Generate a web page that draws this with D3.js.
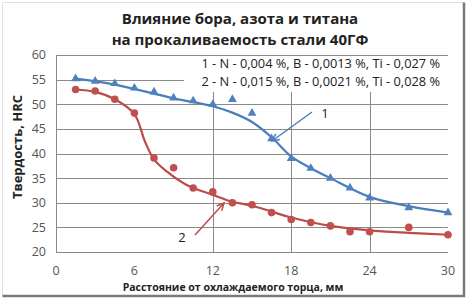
<!DOCTYPE html>
<html lang="ru">
<head>
<meta charset="UTF-8">
<title>Прокаливаемость стали 40ГФ</title>
<script src="https://d3js.org/d3.v7.min.js"></script>
<style>
  body { margin: 0; background: #fff; }
  svg { display: block; font-family: "Open Sans", "DejaVu Sans", sans-serif; }
  .grid line { stroke: #8a8a8a; stroke-width: 1px; }
  .tick-label { font-size: 12.5px; fill: #555; }
</style>
</head>
<body>
<div id="chart"></div>
<script>
// distances from the quenched end, mm
const distance = [1.5, 3, 4.5, 6, 7.5, 9, 10.5, 12, 13.5, 15, 16.5, 18, 19.5, 21, 22.5, 24, 27, 30];
// hardness, HRC (measured points)
const steel1 = [55.2, 54.7, 54.2, 53.3, 52.5, 51.3, 50.7, 50, 51, 48.2, 43, 39, 37, 35, 33, 31, 29, 28];
const steel2 = [53, 52.7, 51, 48.2, 39.1, 37.1, 33, 32.2, 30, 29.6, 28, 26.6, 26, 25.3, 24.1, 24.1, 25, 23.5];

// smooth curves drawn through the points
const curve1X = [1.5, 4.5, 9, 12, 13.5, 15, 16.5, 18, 19.5, 21, 24, 27, 30];
const curve1Y = [55.2, 54, 51.2, 49.6, 48.3, 46.4, 43.3, 39.4, 37, 35, 31.2, 29.3, 28];
const curve2X = [1.5, 3, 4.5, 6, 6.8, 7.5, 8.5, 10, 12, 13.5, 15, 16.5, 18, 21, 24, 27, 30];
const curve2Y = [53, 52.5, 51, 48, 42.5, 38.8, 36.3, 33.6, 31.6, 30.2, 29.4, 28.2, 27, 25.3, 24.4, 23.9, 23.5];

const xTicks = [0, 6, 12, 18, 24, 30];
const yTicks = [20, 25, 30, 35, 40, 45, 50, 55, 60];
const xGrid = [12, 18, 24];

const legendLines = [
  "1 - N - 0,004 %, B - 0,0013 %, Ti - 0,027 %",
  "2 - N - 0,015 %, B - 0,0021 %, Ti - 0,028 %"
];

const W = 468, H = 299;
const blue = "#4a7ebb", red = "#be4b48";

const svg = d3.select("#chart").append("svg")
  .attr("width", W).attr("height", H);

// chart frame
svg.append("rect").attr("x", 0).attr("y", 0).attr("width", W).attr("height", H).attr("fill", "#fff");
svg.append("path").attr("d", "M2.5,296 V2.5 H464").attr("fill", "none").attr("stroke", "#e0e0e0");
svg.append("path").attr("d", "M464,2.5 V296 H2.5").attr("fill", "none").attr("stroke", "#7a7a7a").attr("stroke-width", 2.5);

const x = d3.scaleLinear().domain([0, 30]).range([56, 448]);
const y = d3.scaleLinear().domain([20, 60]).range([252, 55]);

// grid
const grid = svg.append("g").attr("class", "grid");
grid.selectAll(".h").data(yTicks).join("line")
  .attr("x1", x(0)).attr("x2", x(30))
  .attr("y1", d => Math.round(y(d)) + 0.5).attr("y2", d => Math.round(y(d)) + 0.5);
grid.selectAll(".v").data(xGrid).join("line")
  .attr("x1", d => Math.round(x(d)) + 0.5).attr("x2", d => Math.round(x(d)) + 0.5)
  .attr("y1", y(60)).attr("y2", y(20));
grid.append("line")
  .attr("x1", Math.round(x(0)) + 0.5).attr("x2", Math.round(x(0)) + 0.5)
  .attr("y1", y(60)).attr("y2", y(20));

// tick labels
svg.selectAll(".ylab").data(yTicks).join("text")
  .attr("class", "tick-label")
  .attr("x", 46).attr("y", d => y(d)).attr("dy", "0.35em")
  .attr("text-anchor", "end").text(d => d);
svg.selectAll(".xlab").data(xTicks).join("text")
  .attr("class", "tick-label")
  .attr("x", d => x(d)).attr("y", 271).attr("dy", "0.35em")
  .attr("text-anchor", "middle").text(d => d);

// axis titles
svg.append("text")
  .attr("transform", "translate(17,147) rotate(-90)")
  .attr("text-anchor", "middle").attr("dy", "0.35em")
  .attr("font-size", 13).attr("font-weight", "bold").attr("fill", "#222")
  .text("Твердость, HRC");
svg.append("text")
  .attr("x", 233).attr("y", 287).attr("dy", "0.35em")
  .attr("text-anchor", "middle")
  .attr("font-size", 10.5).attr("font-weight", "bold").attr("fill", "#222")
  .text("Расстояние от охлаждаемого торца, мм");

// title
svg.selectAll(".title").data(["Влияние бора, азота и титана", "на прокаливаемость стали 40ГФ"]).join("text")
  .attr("x", 240).attr("y", (d, i) => 19 + i * 21).attr("dy", "0.35em")
  .attr("text-anchor", "middle")
  .attr("font-size", 15).attr("font-weight", "bold").attr("fill", "#222")
  .text(d => d);

// legend text box (covers grid)
svg.append("rect").attr("x", 184).attr("y", 56).attr("width", 272).attr("height", 36).attr("fill", "#fff");
svg.selectAll(".leg").data(legendLines).join("text")
  .attr("x", 440).attr("y", (d, i) => 64 + i * 18).attr("dy", "0.35em")
  .attr("text-anchor", "end").attr("font-size", 12.8).attr("fill", "#222")
  .text(d => d);

// curves
const line = d3.line().x(d => x(d[0])).y(d => y(d[1])).curve(d3.curveCatmullRom.alpha(0.5));
svg.append("path").datum(d3.zip(curve1X, curve1Y))
  .attr("d", line).attr("fill", "none").attr("stroke", blue).attr("stroke-width", 2.2);
svg.append("path").datum(d3.zip(curve2X, curve2Y))
  .attr("d", line).attr("fill", "none").attr("stroke", red).attr("stroke-width", 2.2);

// markers
svg.selectAll(".tri").data(d3.zip(distance, steel1)).join("path")
  .attr("transform", d => `translate(${x(d[0])},${y(d[1])})`)
  .attr("d", d3.symbol(d3.symbolTriangle, 34))
  .attr("fill", "#4f81bd");
svg.selectAll(".dot").data(d3.zip(distance, steel2)).join("circle")
  .attr("cx", d => x(d[0])).attr("cy", d => y(d[1])).attr("r", 3.8)
  .attr("fill", "#c0504d");

// annotation arrows
function arrow(x1, y1, x2, y2, color) {
  svg.append("line").attr("x1", x1).attr("y1", y1).attr("x2", x2).attr("y2", y2)
    .attr("stroke", color).attr("stroke-width", 1.5);
  const a = Math.atan2(y2 - y1, x2 - x1), L = 8;
  const p = [a + 0.45, a - 0.45].map(t => [x2 - L * Math.cos(t), y2 - L * Math.sin(t)]);
  svg.append("path").attr("d", `M${p[0]}L${x2},${y2}L${p[1]}`)
    .attr("fill", "none").attr("stroke", color).attr("stroke-width", 1.5);
}
arrow(312, 112, 272, 141, blue);
arrow(195, 235, 224, 203, red);

svg.append("text").attr("x", 325).attr("y", 113).attr("dy", "0.35em")
  .attr("text-anchor", "middle").attr("font-size", 13).attr("fill", "#222").text("1");
svg.append("text").attr("x", 182).attr("y", 237).attr("dy", "0.35em")
  .attr("text-anchor", "middle").attr("font-size", 13).attr("fill", "#222").text("2");
</script>
</body>
</html>
